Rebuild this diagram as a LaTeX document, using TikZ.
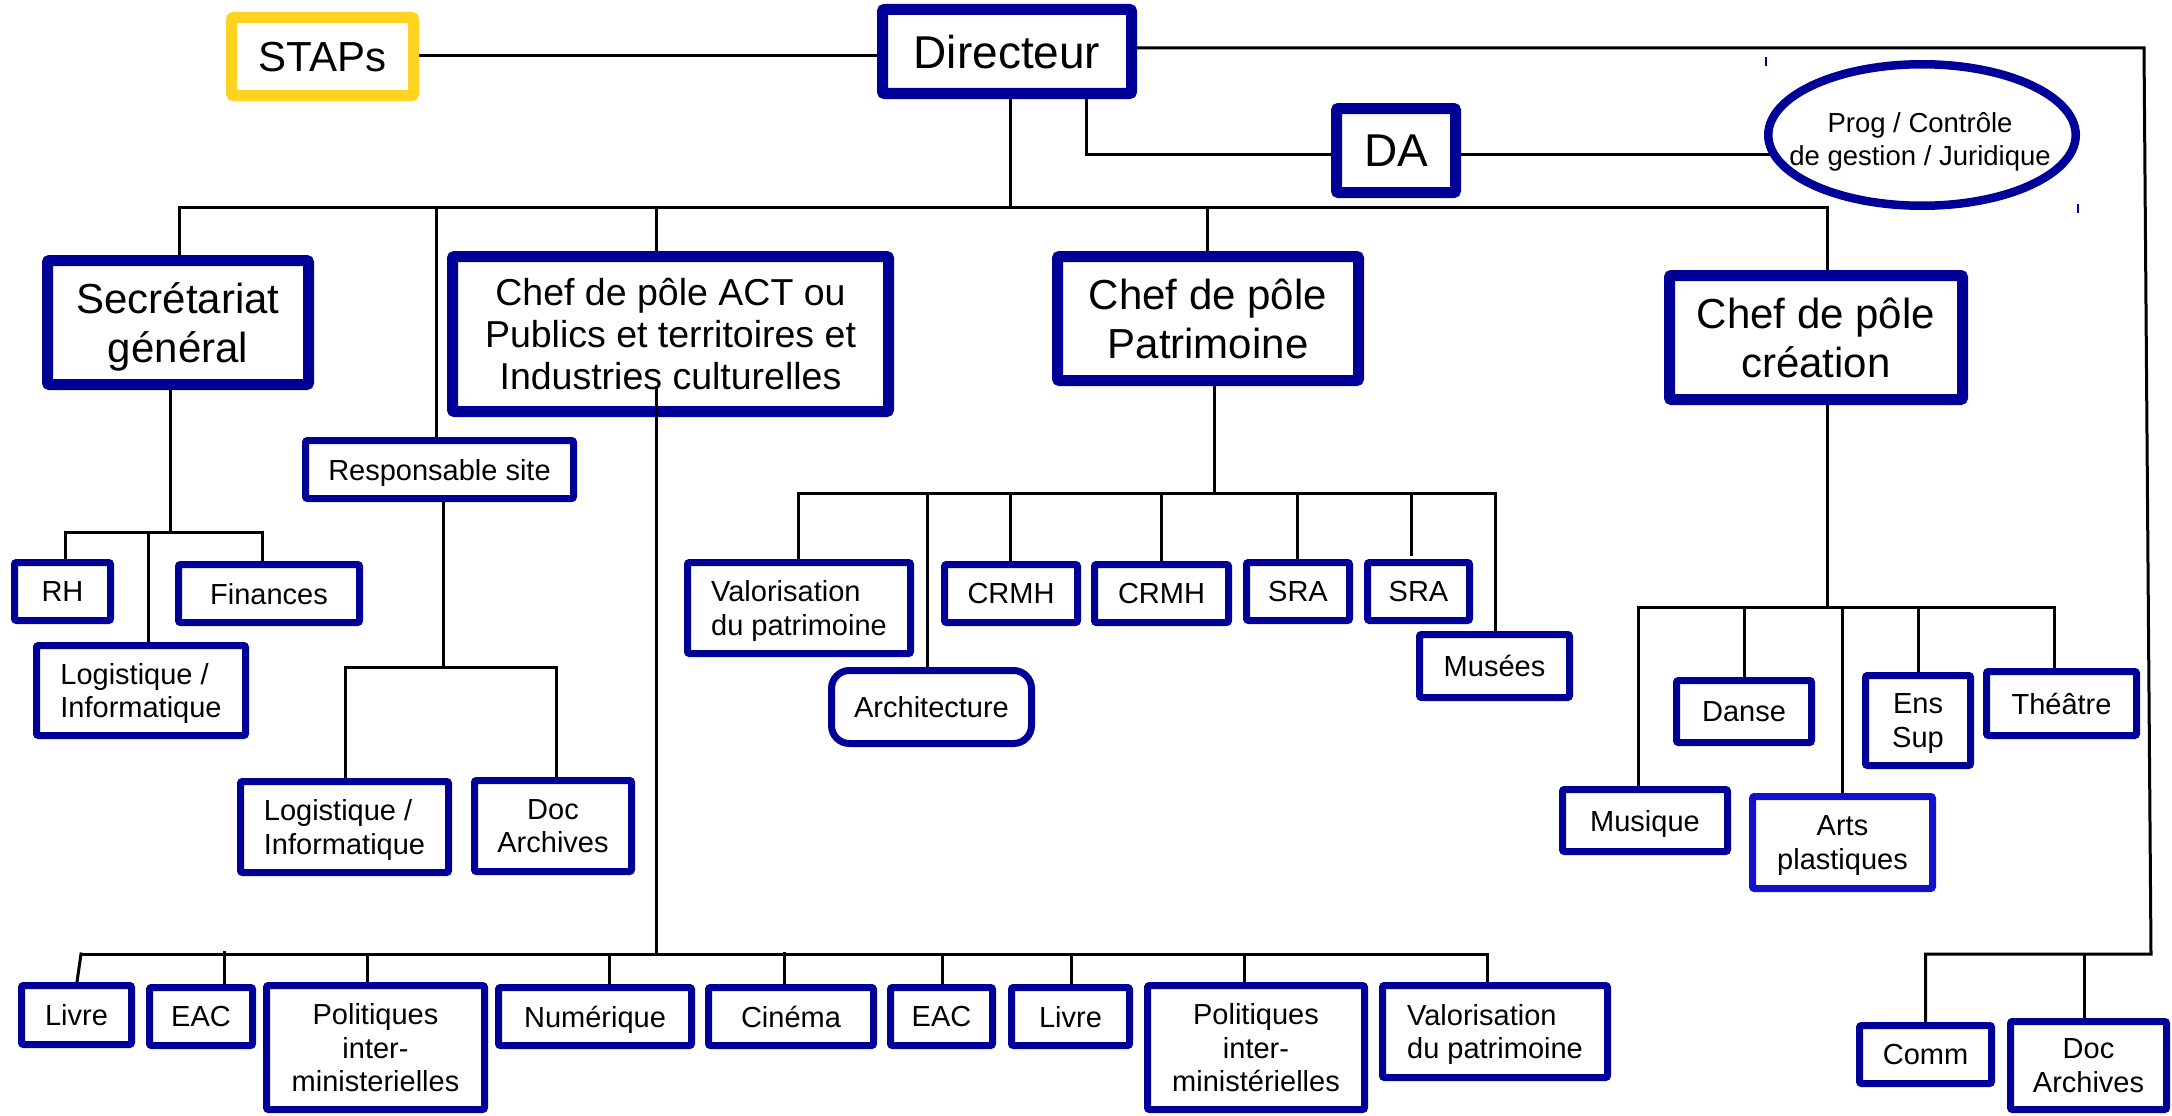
\documentclass[tikz,border=0pt]{standalone}
\usepackage{fontspec}
\setmainfont{Liberation Sans}
\usetikzlibrary{shapes.geometric,backgrounds}
\definecolor{dblue}{RGB}{0,0,153}
\definecolor{bblue}{RGB}{18,18,204}
\definecolor{stapy}{RGB}{255,211,32}
% style, line width, name, x1, y1, x2, y2, text
\newcommand\bx[8]{%
  \node[#1, line width=#2, minimum width={#6-#4-#2}, minimum height={#7-#5-#2}]
    (#3) at ({(#4+#6)/2},{(#5+#7)/2}) {#8};}
\tikzset{
  big/.style={draw=dblue, fill=white, inner sep=0pt, align=center, rounded corners=2pt, text depth=0pt},
  sml/.style={draw=dblue, fill=white, inner sep=0pt, align=center, rounded corners=2pt, text depth=0pt,
    font=\fontsize{29}{33.5}\selectfont},
  conn/.style={draw=black, line width=3pt, line cap=rect},
}
\begin{document}
\begin{tikzpicture}[x=1pt,y=-1pt]
\useasboundingbox (0,0) rectangle (2172,1116);
% ---------- nodes ----------
\bx{big,draw=stapy,font=\fontsize{42}{49}\selectfont}{11}{staps}{226}{12}{419}{101}{STAPs}
\bx{big,font=\fontsize{46}{54}\selectfont}{11}{dir}{877}{4}{1137}{99}{Directeur}
\bx{big,font=\fontsize{46}{54}\selectfont}{11}{da}{1331}{103}{1461}{198}{DA}
\node[ellipse, draw=dblue, fill=white, line width=8.5pt, inner sep=0pt,
  minimum width=307.5, minimum height=141.5] (prog) at (1922,135) {};
\node[align=center, inner sep=0pt, text depth=0pt, font=\fontsize{27.5}{33}\selectfont] (progt) at (1920,139)
  {Prog / Contrôle\\de gestion / Juridique};
\bx{big,font=\fontsize{42}{49}\selectfont}{11}{sec}{42}{255}{314}{390}{Secrétariat\\général}
\bx{big,font=\fontsize{37.5}{42}\selectfont}{11}{act}{447}{251}{894}{417}{Chef de pôle ACT ou\\Publics et territoires et\\Industries culturelles}
\bx{big,font=\fontsize{42}{49}\selectfont}{11}{pat}{1052}{251}{1364}{386}{Chef de pôle\\Patrimoine}
\bx{big,font=\fontsize{42}{49}\selectfont}{11}{cre}{1664}{270}{1968}{405}{Chef de pôle\\création}
% secretariat branch
\bx{sml}{7}{resp}{302}{437}{577}{502}{Responsable site}
\bx{sml}{7}{rh}{11}{559}{114}{624}{RH}
\bx{sml}{7}{fin}{175}{561}{363}{626}{Finances}
\bx{sml,align=left}{7}{log1}{33}{642}{249}{739}{Logistique /\\Informatique}
\bx{sml,align=left}{7}{log2}{237}{778}{452}{876}{Logistique /\\Informatique}
\bx{sml}{7}{doc1}{471}{777}{635}{875}{Doc\\Archives}
% patrimoine branch
\bx{sml,align=left}{7}{val1}{684}{559}{914}{657}{Valorisation\\du patrimoine}
\bx{sml,rounded corners=18pt}{7}{arch}{828}{667}{1035}{747}{Architecture}
\bx{sml}{7}{crmh1}{941}{561}{1081}{626}{CRMH}
\bx{sml}{7}{crmh2}{1091}{561}{1232}{626}{CRMH}
\bx{sml}{7}{sra1}{1243}{559}{1353}{624}{SRA}
\bx{sml}{7}{sra2}{1364}{559}{1473}{624}{SRA}
\bx{sml}{7}{mus}{1416}{631}{1573}{701}{Musées}
% creation branch
\bx{sml}{7}{danse}{1673}{677}{1815}{746}{Danse}
\bx{sml}{7}{ens}{1862}{672}{1974}{769}{Ens\\Sup}
\bx{sml}{7}{theatre}{1983}{668}{2140}{739}{Théâtre}
\bx{sml}{7}{musique}{1559}{786}{1731}{855}{Musique}
\bx{sml,draw=bblue}{7}{arts}{1749}{793}{1936}{892}{Arts\\plastiques}
% bottom row
\bx{sml}{7}{livre1}{18}{982}{135}{1048}{Livre}
\bx{sml}{7}{eac1}{146}{984}{256}{1049}{EAC}
\bx{sml}{7}{pol1}{263}{982}{488}{1113}{Politiques\\inter-\\ministerielles}
\bx{sml}{7}{num}{495}{984}{695}{1049}{Numérique}
\bx{sml}{7}{cin}{705}{984}{877}{1049}{Cinéma}
\bx{sml}{7}{eac2}{887}{984}{996}{1049}{EAC}
\bx{sml}{7}{livre2}{1008}{984}{1133}{1049}{Livre}
\bx{sml}{7}{pol2}{1144}{982}{1368}{1113}{Politiques\\inter-\\ministérielles}
\bx{sml,align=left}{7}{val2}{1379}{982}{1611}{1081}{Valorisation\\du patrimoine}
\bx{sml}{7}{comm}{1856}{1022}{1995}{1087}{Comm}
\bx{sml}{7}{doc2}{2007}{1018}{2170}{1113}{Doc\\Archives}
% ---------- connectors ----------
\begin{scope}[on background layer]
\coordinate (rc1) at (2144,48);
\coordinate (rc2) at (2151,954);
\draw[conn] (staps.east |- 0,56) -- (dir.west |- 0,56);
\draw[conn] (dir.east |- rc1) -- (rc1) -- (rc2) -- (comm.north |- rc2) -- (comm.north);
\draw[conn] (2084,954) -- (doc2.north -| 2084,0);
\draw[conn] (dir.south -| 1010,0) -- (1010,207);
\draw[conn] (dir.south -| 1086,0) -- (1086,154) -- (da.west |- 0,154);
\draw[conn] (da.east |- 0,154) -- (prog.center |- 0,154);
% main bus
\draw[conn] (179,207) -- (1827,207);
\draw[conn] (179,207) -- (sec.north -| 179,0);
\draw[conn] (436,207) -- (resp.north -| 436,0);
\draw[conn] (656,207) -- (act.north -| 656,0);
\draw[conn] (1207,207) -- (pat.north -| 1207,0);
\draw[conn] (1827,207) -- (cre.north -| 1827,0);
% secretariat
\draw[conn] (sec.south -| 170,0) -- (170,532);
\draw[conn] (65,532) -- (262,532);
\draw[conn] (65,532) -- (rh.north -| 65,0);
\draw[conn] (148,532) -- (log1.north -| 148,0);
\draw[conn] (262,532) -- (fin.north -| 262,0);
% responsable site
\draw[conn] (resp.south -| 443,0) -- (443,667);
\draw[conn] (345,667) -- (556,667);
\draw[conn] (345,667) -- (log2.north -| 345,0);
\draw[conn] (556,667) -- (doc1.north -| 556,0);
% patrimoine
\draw[conn] (pat.south -| 1214,0) -- (1214,493);
\draw[conn] (798,493) -- (1495,493);
\draw[conn] (798,493) -- (val1.north -| 798,0);
\draw[conn] (927,493) -- (arch.north -| 927,0);
\draw[conn] (1010,493) -- (crmh1.north -| 1010,0);
\draw[conn] (1161,493) -- (crmh2.north -| 1161,0);
\draw[conn] (1297,493) -- (sra1.north -| 1297,0);
\coordinate (sraend) at (1411,554);
\draw[conn] (1411,493) -- (sraend);
\draw[conn] (1495,493) -- (mus.north -| 1495,0);
% creation
\draw[conn] (cre.south -| 1827,0) -- (1827,607);
\draw[conn] (1638,607) -- (2054,607);
\draw[conn] (1638,607) -- (musique.north -| 1638,0);
\draw[conn] (1744,607) -- (danse.north -| 1744,0);
\draw[conn] (1842,607) -- (arts.north -| 1842,0);
\draw[conn] (1918,607) -- (ens.north -| 1918,0);
\draw[conn] (2054,607) -- (theatre.north -| 2054,0);
% bottom bus
\draw[conn] (81,954) -- (1487,954);
\draw[conn] (81,954) -- (livre1.north -| 77,0);
\draw[conn] (224,952) -- (eac1.north -| 224,0);
\draw[conn] (367,954) -- (pol1.north -| 367,0);
\draw[conn] (609,954) -- (num.north -| 609,0);
\draw[conn] (784,953) -- (cin.north -| 784,0);
\draw[conn] (942,954) -- (eac2.north -| 942,0);
\draw[conn] (1071,954) -- (livre2.north -| 1071,0);
\draw[conn] (1244,954) -- (pol2.north -| 1244,0);
\draw[conn] (1487,954) -- (val2.north -| 1487,0);
\end{scope}
% ACT line drawn over its box
\coordinate (actin) at (656,387);
\draw[conn] (actin) -- (656,954);
% small marks
\draw[dblue, line width=1.5pt] (1766,57) -- (1766,66);
\draw[dblue, line width=1.5pt] (2078,204) -- (2078,213);
\end{tikzpicture}
\end{document}
